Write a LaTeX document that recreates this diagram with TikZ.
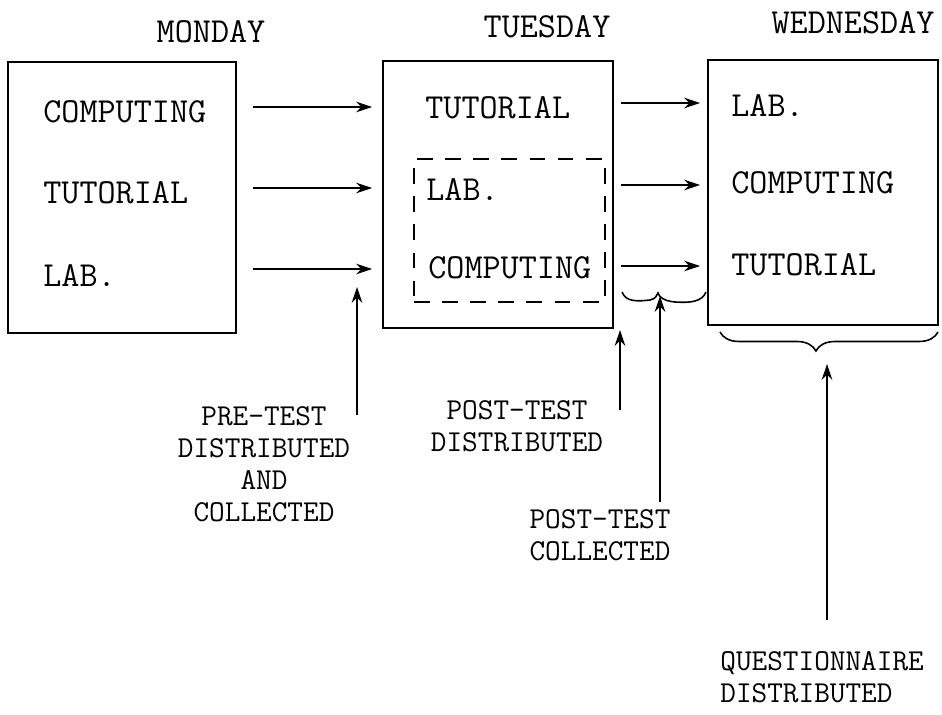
\documentclass[tikz,border=0pt]{standalone}
\usepackage{fontspec}
\usetikzlibrary{arrows.meta,calc,decorations.pathreplacing}

\begin{document}
\begin{tikzpicture}[x=0.02cm, y=-0.02cm, every node/.style={font=\ttfamily\fontsize{20}{22}\selectfont}]

\tikzset{
  daybox/.style={rectangle,draw,line width=1.1pt,inner sep=0pt},
  item/.style={anchor=west,inner sep=0pt},
  note/.style={align=center,inner sep=0pt,font=\ttfamily\fontsize{17.3}{18.2}\selectfont},
  flow/.style={-{Stealth[length=9pt,width=6pt]},line width=0.9pt},
}
\useasboundingbox (0,0) rectangle (942,715);

% day headings
\node (monday) at (211,32) {MONDAY};
\node (tuesday) at (547,27) {TUESDAY};
\node (wednesday) at (853,23) {WEDNESDAY};

% day boxes
\node[daybox,minimum width=4.56cm,minimum height=5.42cm] (mon) at (122,197.5) {};
\node[daybox,minimum width=4.6cm,minimum height=5.34cm] (tue) at (498,194.5) {};
\node[daybox,minimum width=4.6cm,minimum height=5.3cm] (wed) at (823,192.5) {};
\node[daybox,dashed,dash pattern=on 9pt off 7pt,minimum width=3.82cm,minimum height=2.86cm] (pair) at (509.5,230.5) {};

\node[item] (mcomp) at (43,112) {COMPUTING};
\node[item] (mtut) at (43,193) {TUTORIAL};
\node[item] (mlab) at (43,276) {LAB.};

\node[item] (ttut) at (425,108) {TUTORIAL};
\node[item] (tlab) at (426,190) {LAB.};
\node[item] (tcomp) at (428,268) {COMPUTING};

\node[item] (wlab) at (731,106) {LAB.};
\node[item] (wcomp) at (731,183) {COMPUTING};
\node[item] (wtut) at (731,265) {TUTORIAL};

% moves between days
\draw[flow] ($(mon.east |- mcomp)+(16,-5)$) -- ($(tue.west |- mcomp)+(-10,-5)$);
\draw[flow] ($(mon.east |- mtut)+(16,-5)$) -- ($(tue.west |- mtut)+(-10,-5)$);
\draw[flow] ($(mon.east |- mlab)+(16,-7)$) -- ($(tue.west |- mlab)+(-10,-7)$);

\draw[flow] ($(tue.east |- ttut)+(7,-5)$) -- ($(wed.west |- ttut)+(-7,-5)$);
\draw[flow] ($(tue.east |- tlab)+(7,-5)$) -- ($(wed.west |- tlab)+(-7,-5)$);
\draw[flow] ($(tue.east |- tcomp)+(7,-2)$) -- ($(wed.west |- tcomp)+(-7,-2)$);

% braces
\draw[line width=0.9pt] (622,292) .. controls (626,303) and (640,301) .. (650,300)
  .. controls (655,299) and (657,296) .. (658,293)
  .. controls (659,297) and (664,301) .. (675,302)
  .. controls (690,303) and (702,302) .. (706,292);
\draw[line width=0.9pt,decorate,decoration={brace,amplitude=0.38cm,aspect=0.56}] (938,332) -- (720,332);

% notes
\node[note] (pre) at (264,464) {PRE-TEST\\DISTRIBUTED\\AND\\COLLECTED};
\node[note] (postd) at (517,426) {POST-TEST\\DISTRIBUTED};
\node[note] (postc) at (600,535) {POST-TEST\\COLLECTED};
\node[note,align=left,anchor=west] (quest) at (720,677) {QUESTIONNAIRE\\DISTRIBUTED};

\coordinate (prefoot) at (357,415);
\coordinate (pretip) at (357,287);
\coordinate (postdfoot) at (620,410);
\coordinate (postdtip) at (620,330);
\coordinate (postcfoot) at (660,502);
\coordinate (postctip) at (660,296);
\coordinate (questfoot) at (827,620);
\coordinate (questtip) at (827,364);

\draw[flow] (prefoot) -- (pretip);
\draw[flow] (postdfoot) -- (postdtip);
\draw[flow] (postcfoot) -- (postctip);
\draw[flow] (questfoot) -- (questtip);

\end{tikzpicture}
\end{document}
